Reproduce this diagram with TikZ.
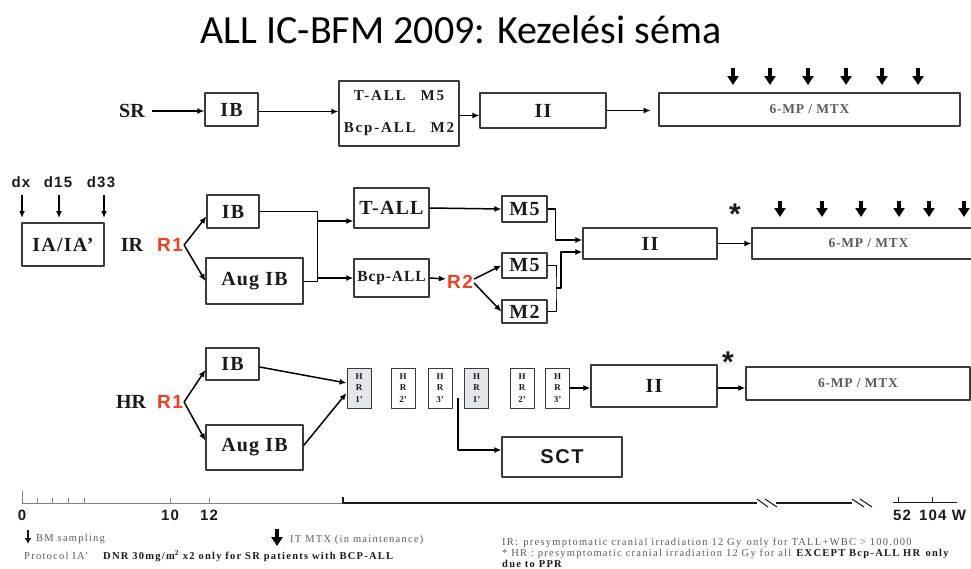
\documentclass[tikz,border=0pt]{standalone}
\usepackage{fontspec}
\setmainfont{Liberation Serif}
\setsansfont{Liberation Sans}
\newfontfamily\titlefont{Carlito}
\newfontfamily\widefont[LetterSpace=6]{Liberation Serif}
\newfontfamily\notefont[LetterSpace=12]{Liberation Serif}
\newfontfamily\widesans[LetterSpace=8]{Liberation Sans}
\usetikzlibrary{arrows.meta}
\definecolor{ink}{HTML}{1A1A1A}
\definecolor{boxc}{HTML}{3A3A3A}
\definecolor{redr}{HTML}{F0401E}
\definecolor{grayt}{HTML}{5A5A5A}
\definecolor{shade}{HTML}{E3E7EB}
\tikzset{fig/.style={line join=round,x=1pt,y=-1pt},
  bx/.style={draw=boxc,line width=1.3pt,inner sep=0pt,text=ink,font=\widefont\fontsize{20}{22}\selectfont\bfseries},
  lbl/.style={text=ink,inner sep=2pt,font=\fontsize{20}{22}\selectfont\bfseries},
  rr/.style={text=redr,inner sep=1pt,font=\widesans\fontsize{19}{20}\selectfont\bfseries},
  dd/.style={text=ink,inner sep=1pt,font=\widesans\fontsize{15}{16}\selectfont\bfseries},
  arr/.style={line width=1.5pt,-{Latex[length=7pt,width=6pt]}},
  ln/.style={line width=1pt},
  fat/.style={line width=4pt,-{Triangle[length=9pt,width=11pt]}},
  mp/.style={bx,font=\widefont\fontsize{13.5}{15}\selectfont\bfseries,text=grayt},
  hrbox/.style={bx,line width=1pt,minimum width=24pt,minimum height=40pt,align=center,font=\fontsize{9}{11.5}\selectfont\bfseries},
  star/.style={text=ink,inner sep=0pt,font=\sffamily\bfseries\fontsize{30}{30}\selectfont},
  note/.style={anchor=west,inner sep=0pt,text=grayt,font=\notefont\fontsize{10.5}{12}\selectfont},
}
\begin{document}
\begin{tikzpicture}[fig]
  \useasboundingbox (0,0) rectangle (971,568);
  \node[font=\titlefont\fontsize{40}{44}\selectfont] (title) at (461,30) {ALL IC-BFM 2009: Kezelési séma};
  % SR
  \node[lbl] (sr) at (132,111) {SR};
  \node[bx,minimum width=53pt,minimum height=33pt] (srib) at (231.5,109.5) {IB};
  \node[bx,minimum width=120pt,minimum height=65pt,align=center,font=\notefont\fontsize{15}{16}\selectfont\bfseries] (srm) at (399,113.5) {T-ALL\quad M5\\[16pt]Bcp-ALL\quad M2};
  \node[bx,minimum width=126pt,minimum height=35pt] (srii) at (543,110.5) {II};
  \node[mp,minimum width=301pt,minimum height=33pt] (srmp) at (809.5,109.5) {6-MP / MTX};
  \draw[arr]([xshift=5pt]sr.east)--(sr.east-|srib.west);
  \draw[arr]([yshift=-2pt]srib.east)--([yshift=-2pt]srib.east-|srm.west);
  \draw[arr]([yshift=-2pt]srm.east)--([yshift=-2pt]srm.east-|srii.west);
  \draw[arr](srii.east)--++(44,0);
  \foreach \xx in {733,770,808,846,882,918} \draw[fat](\xx,68)--(\xx,85);
  % IR
  \node[dd] (dx) at (21,182) {dx};
  \node[dd] (d15) at (58,182) {d15};
  \node[dd] (d33) at (101,182) {d33};
  \node[bx,minimum width=82pt,minimum height=43pt] (ia) at (63,244.5) {IA/IA’};
  \draw[arr](22,195)--(22,218);
  \draw[arr](59,195)--(59,218);
  \draw[arr](104,195)--(104,218);
  \node[lbl] (ir) at (132,245) {IR};
  \node[rr] (r1) at (170,245) {R1};
  \node[bx,minimum width=52pt,minimum height=33pt] (irib) at (233,211.5) {IB};
  \node[bx,minimum width=97pt,minimum height=46pt] (iraug) at (254.5,281) {Aug IB};
  \node[bx,minimum width=75pt,minimum height=40pt] (tall) at (391.5,208) {T-ALL};
  \node[bx,minimum width=75pt,minimum height=38pt,font=\widefont\fontsize{15.5}{17}\selectfont\bfseries] (bcp) at (391.5,278) {Bcp-ALL};
  \node[rr] (r2) at (460,282) {R2};
  \node[bx,minimum width=45pt,minimum height=26pt] (m5a) at (524.5,209) {M5};
  \node[bx,minimum width=45pt,minimum height=25pt] (m5b) at (524.5,265.5) {M5};
  \node[bx,minimum width=45pt,minimum height=23pt] (m2) at (524.5,311.5) {M2};
  \node[bx,minimum width=134pt,minimum height=31pt] (irii) at (650,243.5) {II};
  \node[mp,minimum width=233pt,minimum height=31pt] (irmp) at (868.5,243.5) {6-MP / MTX};
  \coordinate (bar) at (317,0);
  \coordinate (jr) at (556,288);
  \draw[arr](r1.east)--([yshift=-5pt]irib.west);
  \draw[arr](r1.east)--(iraug.west);
  \draw[ln](irib.east)-|(bar|-iraug.east)--(iraug.east);
  \draw[arr](bar|-0,221)--(0,221-|tall.west);
  \draw[arr](bar|-bcp.west)--(bcp.west);
  \draw[arr](tall.east)--(m5a.west);
  \draw[arr](bcp.east)--([yshift=3pt]r2.west);
  \draw[arr]([yshift=3pt]r2.east)--(m5b.west);
  \draw[arr]([yshift=-1pt]r2.east)--(m2.west);
  \draw[arr](m5a.east)--++(8,0)|-([yshift=3.5pt]irii.west);
  \draw[ln](m5b.east)-|(jr)|-(m2.east);
  \draw[arr](jr)--++(5,0)|-([yshift=-8.5pt]irii.west);
  \draw[arr](irii.east)--(irmp.west);
  \node[star] (st1) at (735,214) {*};
  \foreach \xx in {780,822,861,899,929,964} \draw[fat](\xx,201)--(\xx,217);
  % HR
  \node[lbl] (hr) at (131,402) {HR};
  \node[rr] (r1b) at (170,402) {R1};
  \node[bx,minimum width=53pt,minimum height=32pt] (hrib) at (232.5,364) {IB};
  \node[bx,minimum width=97pt,minimum height=45pt] (hraug) at (254.5,447.5) {Aug IB};
  \foreach \nm/\xx/\lab/\fc in {hra1/359/1/shade,hra2/403/2/white,hra3/440/3/white,hrb1/476.5/1/shade,hrb2/522/2/white,hrb3/557.5/3/white}
    \node[hrbox,fill=\fc] (\nm) at (\xx,388) {H\\R\\\lab’};
  \node[bx,minimum width=126pt,minimum height=42pt] (hrii) at (654,386) {II};
  \node[mp,minimum width=224pt,minimum height=33pt] (hrmp) at (858,383.5) {6-MP / MTX};
  \node[bx,minimum width=120pt,minimum height=40pt,font=\widesans\fontsize{20}{22}\selectfont\bfseries] (sct) at (562,457) {SCT};
  \coordinate (hs) at (458,398);
  \draw[arr](r1b.east)--([yshift=-6pt]hrib.west);
  \draw[arr](r1b.east)--([yshift=7pt]hraug.west);
  \draw[arr]([yshift=-3pt]hrib.east)--([yshift=5pt]hra1.west);
  \draw[arr]([yshift=2pt]hraug.east)--([yshift=-5pt]hra1.west);
  \draw[arr](hs)|-([yshift=7pt]sct.west);
  \draw[arr](hrb3.east)--(hrb3.east-|hrii.west);
  \draw[arr](hrb3.east-|hrii.east)--(hrb3.east-|hrmp.west);
  \node[star] (st2) at (728,362) {*};
  % time axis
  \draw[gray,line width=1pt](22,503)--(343,503);
  \draw[gray,line width=1pt](22,491)--(22,503);
  \foreach \xx in {37,52,68,84,170,209} \draw[gray,line width=1pt](\xx,498)--(\xx,503);
  \draw[ink,line width=1.2pt](343,497)--(343,503)--(757,503) (776,503)--(852,503);
  \draw[ink,line width=1pt](757,499)--(768,507) (765,499)--(777,507) (852,499)--(864,507) (860,499)--(872,507);
  \draw[ink,line width=1pt](893,502)--(957,502) (898,497)--(898,502) (932,497)--(932,502);
  \node[dd] (t0) at (22,515) {0};
  \node[dd] (t10) at (170,515) {10};
  \node[dd] (t12) at (209,515) {12};
  \node[dd] (t52) at (902,515) {52};
  \node[dd] (t104) at (942.5,515) {104 W};
  % notes
  \draw[ink,line width=1.8pt,-{Latex[length=6pt,width=7pt]}](28,530)--(28,544);
  \node[note] (bm) at (36,539) {BM sampling};
  \node[note] (pia) at (24,556) {Protocol IA’};
  \node[note,text=ink,font=\notefont\fontsize{10.5}{12}\selectfont\bfseries] (dnr) at (103,556) {DNR 30mg/m\textsuperscript{2} x2 only for SR patients with BCP-ALL};
  \draw[fat](277,529)--(277,546);
  \node[note] (itm) at (290,540) {IT MTX (in maintenance)};
  \node[note] (nir) at (502,543) {IR:\enspace presymptomatic cranial irradiation 12 Gy\enspace only for TALL+WBC > 100.000};
  \node[note] (nhr) at (502,554) {* HR : presymptomatic cranial irradiation 12 Gy for all \textbf{\textcolor{ink}{EXCEPT Bcp-ALL HR\enspace only}}};
  \node[note,text=ink,font=\notefont\fontsize{10.5}{12}\selectfont\bfseries] (ppr) at (502,563.5) {due to PPR};
\end{tikzpicture}
\end{document}
